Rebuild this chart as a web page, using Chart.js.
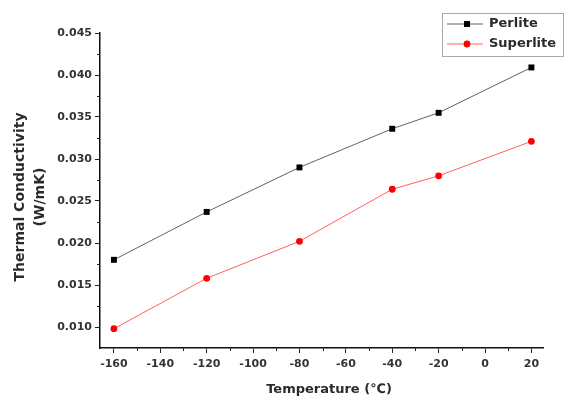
<!DOCTYPE html>
<html><head><meta charset="utf-8">
<script src="https://cdn.jsdelivr.net/npm/chart.js@4.4.1/dist/chart.umd.min.js"></script>
<style>html,body{margin:0;padding:0;background:#fff;}#wrap{width:570px;height:409px;position:relative;}</style>
</head><body><div id="wrap"><canvas id="c" width="570" height="409"></canvas></div>
<script>
const temperatures = [-160, -120, -80, -40, -20, 20];
const perlite = [0.0180, 0.0237, 0.0290, 0.0336, 0.0355, 0.0409];
const superlite = [0.0098, 0.0158, 0.0202, 0.0264, 0.0280, 0.0321];
const seriesNames = ['Perlite', 'Superlite'];
const xTicks = [-160, -140, -120, -100, -80, -60, -40, -20, 0, 20];
const xMinorTicks = [-150, -130, -110, -90, -70, -50, -30, -10, 10];
const yTicks = [0.010, 0.015, 0.020, 0.025, 0.030, 0.035, 0.040, 0.045];
const yMinorTicks = [0.0125, 0.0175, 0.0225, 0.0275, 0.0325, 0.0375, 0.0425];
const xTitle = 'Temperature (\u2103)';
const yTitle = ['Thermal Conductivity', '(W/mK)'];

const FONT = '"DejaVu Sans", "Liberation Sans", sans-serif';
const TXT = '#333';

const toPts = (ys) => temperatures.map((t, i) => ({x: t, y: ys[i]}));

const extras = {
  id: 'extras',
  afterDraw(chart) {
    const ctx = chart.ctx;
    const xs = chart.scales.x, ys = chart.scales.y;
    const ca = chart.chartArea;
    ctx.save();
    // minor ticks
    ctx.strokeStyle = '#222';
    ctx.lineWidth = 1;
    ctx.beginPath();
    xMinorTicks.forEach(v => {
      const px = Math.round(xs.getPixelForValue(v)) + 0.5;
      ctx.moveTo(px, ca.bottom); ctx.lineTo(px, ca.bottom + 3);
    });
    yMinorTicks.forEach(v => {
      const py = Math.round(ys.getPixelForValue(v)) + 0.5;
      ctx.moveTo(ca.left, py); ctx.lineTo(ca.left - 3, py);
    });
    ctx.stroke();

    // axis titles
    ctx.fillStyle = '#2a2a2a';
    ctx.font = 'bold 13px ' + FONT;
    ctx.textAlign = 'center';
    ctx.textBaseline = 'middle';
    ctx.fillText(xTitle, 329, 390);

    ctx.save();
    ctx.translate(20.5, 197);
    ctx.rotate(-Math.PI / 2);
    ctx.font = 'bold 14px ' + FONT;
    ctx.fillText(yTitle[0], 0, 0);
    ctx.fillText(yTitle[1], 0, 19.5);
    ctx.restore();

    // legend
    const bx = 442, by = 13, bw = 121, bh = 43;
    ctx.strokeStyle = '#aaa';
    ctx.lineWidth = 1;
    ctx.strokeRect(bx + 0.5, by + 0.5, bw, bh);
    const rows = [24, 44];
    chart.data.datasets.forEach((ds, i) => {
      const y = rows[i];
      ctx.strokeStyle = ds.borderColor;
      ctx.lineWidth = 1;
      ctx.beginPath();
      ctx.moveTo(447, y); ctx.lineTo(483, y);
      ctx.stroke();
      ctx.fillStyle = ds.pointBackgroundColor;
      if (ds.pointStyle === 'rect') {
        ctx.fillRect(467 - 3, y - 3, 6, 6);
      } else {
        ctx.beginPath();
        ctx.arc(467, y, 3.4, 0, Math.PI * 2);
        ctx.fill();
      }
      ctx.fillStyle = '#2a2a2a';
      ctx.font = 'bold 13px ' + FONT;
      ctx.textAlign = 'left';
      ctx.textBaseline = 'middle';
      ctx.fillText(ds.label, 489, y);
    });
    ctx.restore();
  }
};

new Chart(document.getElementById('c'), {
  type: 'line',
  data: {
    datasets: [
      {
        label: seriesNames[0],
        data: toPts(perlite),
        borderColor: 'rgba(70,70,70,0.85)',
        borderWidth: 1,
        pointStyle: 'rect',
        pointRadius: 4.2,
        pointBackgroundColor: '#000',
        pointBorderColor: '#000',
        pointBorderWidth: 0,
        tension: 0
      },
      {
        label: seriesNames[1],
        data: toPts(superlite),
        borderColor: 'rgba(255,80,80,0.9)',
        borderWidth: 1,
        pointStyle: 'circle',
        pointRadius: 3.4,
        pointBackgroundColor: '#f00',
        pointBorderColor: '#f00',
        pointBorderWidth: 0,
        tension: 0
      }
    ]
  },
  options: {
    responsive: false,
    animation: false,
    devicePixelRatio: 1,
    layout: {padding: {top: 33, right: 27, left: 0, bottom: 0}},
    plugins: {legend: {display: false}, tooltip: {enabled: false}, title: {display: false}},
    scales: {
      x: {
        type: 'linear',
        min: -166, max: 25,
        afterBuildTicks: s => { s.ticks = xTicks.map(v => ({value: v})); },
        afterFit: s => { s.height = 61; },
        ticks: {
          font: {family: FONT, size: 11, weight: 'bold'},
          color: TXT, padding: 5, maxRotation: 0, autoSkip: false,
          callback: v => String(v)
        },
        grid: {drawOnChartArea: false, drawTicks: true, tickLength: 5, color: '#222', lineWidth: 1},
        border: {display: true, color: '#111', width: 1.5}
      },
      y: {
        type: 'linear',
        min: 0.0075, max: 0.045,
        afterBuildTicks: s => { s.ticks = yTicks.map(v => ({value: v})); },
        afterFit: s => { s.width = 100; },
        ticks: {
          font: {family: FONT, size: 11, weight: 'bold'},
          color: TXT, padding: 3, autoSkip: false,
          callback: v => v.toFixed(3)
        },
        grid: {drawOnChartArea: false, drawTicks: true, tickLength: 5, color: '#222', lineWidth: 1},
        border: {display: true, color: '#111', width: 1.5}
      }
    }
  },
  plugins: [extras]
});
</script>
</body></html>
